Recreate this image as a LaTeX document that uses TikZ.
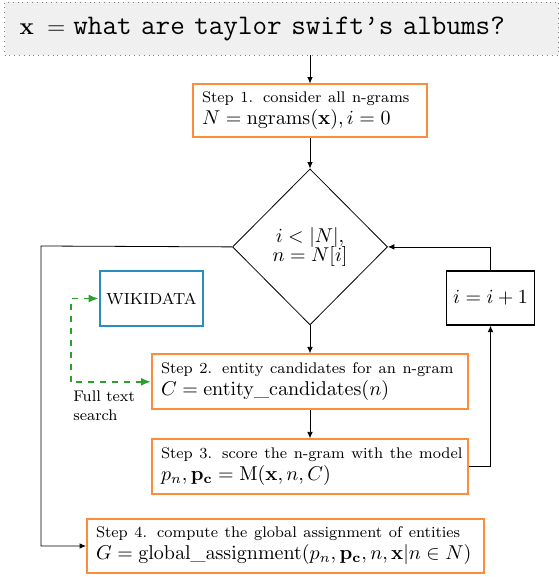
\documentclass[tikz,border=0pt]{standalone}
\usepackage{graphicx}
\usetikzlibrary{arrows.meta,positioning,shapes.geometric}
\definecolor{steporange}{RGB}{253,141,60}
\definecolor{kbblue}{RGB}{43,140,190}
\definecolor{searchgreen}{RGB}{44,160,44}
\newcommand{\steplabel}[1]{\mbox{\fontsize{7.7}{9.5}\selectfont #1}}

\begin{document}
\begin{tikzpicture}[
  node distance=14pt,
  stepbox/.style={draw=steporange,line width=1pt,align=left,inner xsep=4.5pt,inner ysep=2pt},
  arrow/.style={-{Latex[length=3.2pt,width=2.8pt]}},
  search/.style={dashed,draw=searchgreen,line width=0.9pt,{Latex[length=5pt,width=4pt]}-{Latex[length=5pt,width=4pt]}}
]
\useasboundingbox (0,0) rectangle (279pt,-288.5pt);

\node[draw=gray,dotted,fill=gray!12,align=left,text width=262pt,inner xsep=7.5pt,minimum height=26.5pt,font=\large] (query) at (140.75pt,-14.25pt) {$\mathbf{x}\;=$\hspace{4pt}\scalebox{1.18}{\texttt{what are taylor swift’s albums?}}};
\node[stepbox,text width=108pt,minimum height=26.5pt] (step1) at (155pt,-55.5pt) {\steplabel{Step 1. consider all n-grams}\\[-1pt]$N = \mathrm{ngrams}(\mathbf{x}), i = 0$};
\node[draw,diamond,aspect=1,inner sep=0pt,minimum width=77.5pt,minimum height=78pt,align=center,below=15pt of step1] (cond) {$i < |N|,$\\[-2.5pt]$n = N[i]$};
\node[stepbox,text width=149pt,minimum height=27.5pt,below=of cond] (step2) {\steplabel{Step 2. entity candidates for an n-gram}\\[-1pt]$C = \mathrm{entity\_candidates}(n)$};
\node[stepbox,text width=149pt,minimum height=27.5pt,below=of step2] (step3) {\steplabel{Step 3. score the n-gram with the model}\\[-1pt]$p_n, \mathbf{p_c} = \mathrm{M}(\mathbf{x}, n, C)$};
\node[stepbox,text width=189.5pt,minimum height=27pt] (step4) at (142.75pt,-273pt) {\steplabel{Step 4. compute the global assignment of entities}\\[-1pt]$G = \mathrm{global\_assignment}(p_n, \mathbf{p_c}, n, \mathbf{x} | n \in N)$};
\node[draw,semithick,minimum width=43.5pt,minimum height=27pt] (incr) at (245.25pt,-149pt) {$i = i + 1$};
\node[draw=kbblue,line width=1pt,minimum width=50.5pt,minimum height=27.5pt,font=\footnotesize] (wiki) at (75.75pt,-149.25pt) {WIKIDATA};
\node[font=\fontsize{7.7}{9.5}\selectfont,align=left,anchor=north west,inner sep=0pt] (fts) at (36.5pt,-195pt) {Full text\\search};
\coordinate (exit) at (20.5pt,-123pt);

\draw[arrow] (query.south -| step1.north) -- (step1.north);
\draw[arrow] (step1) -- (cond);
\draw[arrow] (cond) -- (step2);
\draw[arrow] (step2) -- (step3);
\draw[arrow] (step3.east) -| (incr.south);
\draw[arrow] (incr.north) |- (cond.east);
\draw[arrow] (cond.west) -- (exit) |- (step4.west);
\draw[search] (wiki.west) -- ++(-14pt,0) |- (step2.west);
\end{tikzpicture}
\end{document}
